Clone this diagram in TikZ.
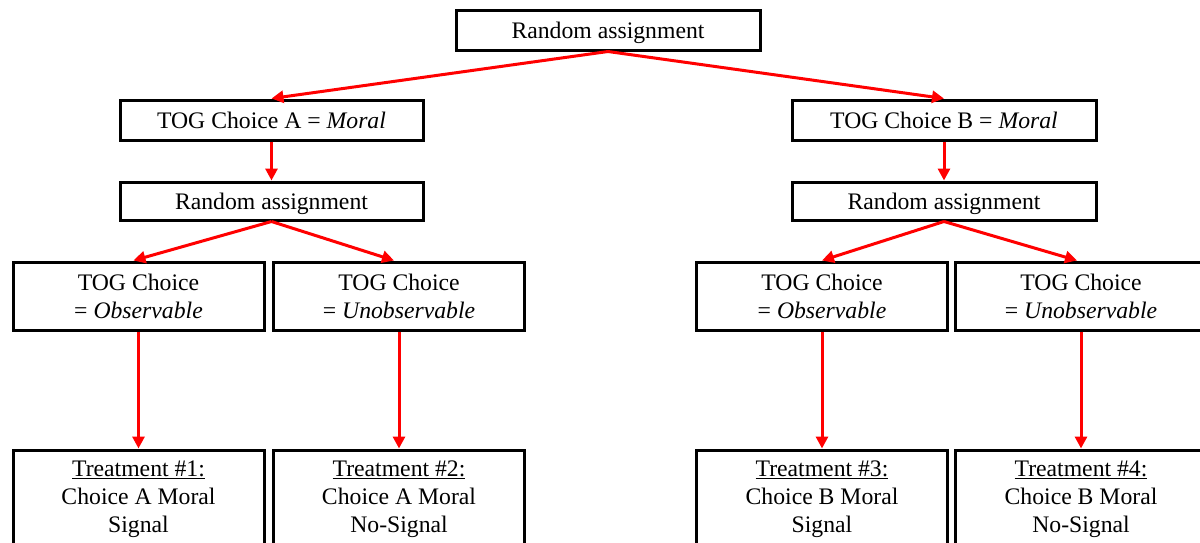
\documentclass[tikz,border=0pt]{standalone}
\usepackage{fontspec}
\setmainfont{Liberation Serif}
\usetikzlibrary{arrows.meta}
\begin{document}
\begin{tikzpicture}[x=1pt,y=-1pt,
  box/.style={draw=black, line width=3pt, inner sep=0pt, align=center,
    font=\fontsize{23.7}{28}\selectfont},
  onebox/.style={box, text height=16pt, text depth=0pt, minimum height=40pt},
  twobox/.style={box, minimum width=251pt, minimum height=68pt},
  treatbox/.style={box, minimum width=251pt, minimum height=98pt},
  link/.style={draw=red, line width=3pt, -{Triangle[length=12pt,width=12pt]}}]
\clip (0,0) rectangle (1200,542);
\fill[white] (0,0) rectangle (1200,542);

% first level
\node[onebox, minimum width=304pt] (top) at (608,30) {Random assignment};

% branch A
\node[onebox, minimum width=303pt] (togA) at (271.5,120) {TOG Choice A = \textit{Moral}};
\node[onebox, minimum width=303pt, minimum height=38pt] (raA) at (271.5,201) {Random assignment};
\node[twobox] (obsA) at (138.5,296) {TOG Choice\\= \textit{Observable}};
\node[twobox] (unobsA) at (399,296) {TOG Choice\\= \textit{Unobservable}};
\node[treatbox] (t1) at (138.5,499) {\underline{Treatment \#1:}\\Choice A Moral\\Signal};
\node[treatbox] (t2) at (399,499) {\underline{Treatment \#2:}\\Choice A Moral\\No-Signal};

% branch B
\node[onebox, minimum width=304pt] (togB) at (944,120) {TOG Choice B = \textit{Moral}};
\node[onebox, minimum width=304pt, minimum height=38pt] (raB) at (944,201) {Random assignment};
\node[twobox] (obsB) at (822,296) {TOG Choice\\= \textit{Observable}};
\node[twobox] (unobsB) at (1081,296) {TOG Choice\\= \textit{Unobservable}};
\node[treatbox] (t3) at (822,499) {\underline{Treatment \#3:}\\Choice B Moral\\Signal};
\node[treatbox] (t4) at (1081,499) {\underline{Treatment \#4:}\\Choice B Moral\\No-Signal};

% connectors
\draw[link] (top.south) -- (togA.north);
\draw[link] (top.south) -- (togB.north);
\draw[link] (togA.south) -- (raA.north);
\draw[link] (togB.south) -- (raB.north);
\draw[link] (raA.south) -- ([xshift=-5pt]obsA.north);
\draw[link] (raA.south) -- ([xshift=-5pt]unobsA.north);
\draw[link] (raB.south) -- (obsB.north);
\draw[link] (raB.south) -- ([xshift=-4pt]unobsB.north);
\draw[link] (obsA.south) -- (t1.north);
\draw[link] (unobsA.south) -- (t2.north);
\draw[link] (obsB.south) -- (t3.north);
\draw[link] (unobsB.south) -- (t4.north);
\end{tikzpicture}
\end{document}
